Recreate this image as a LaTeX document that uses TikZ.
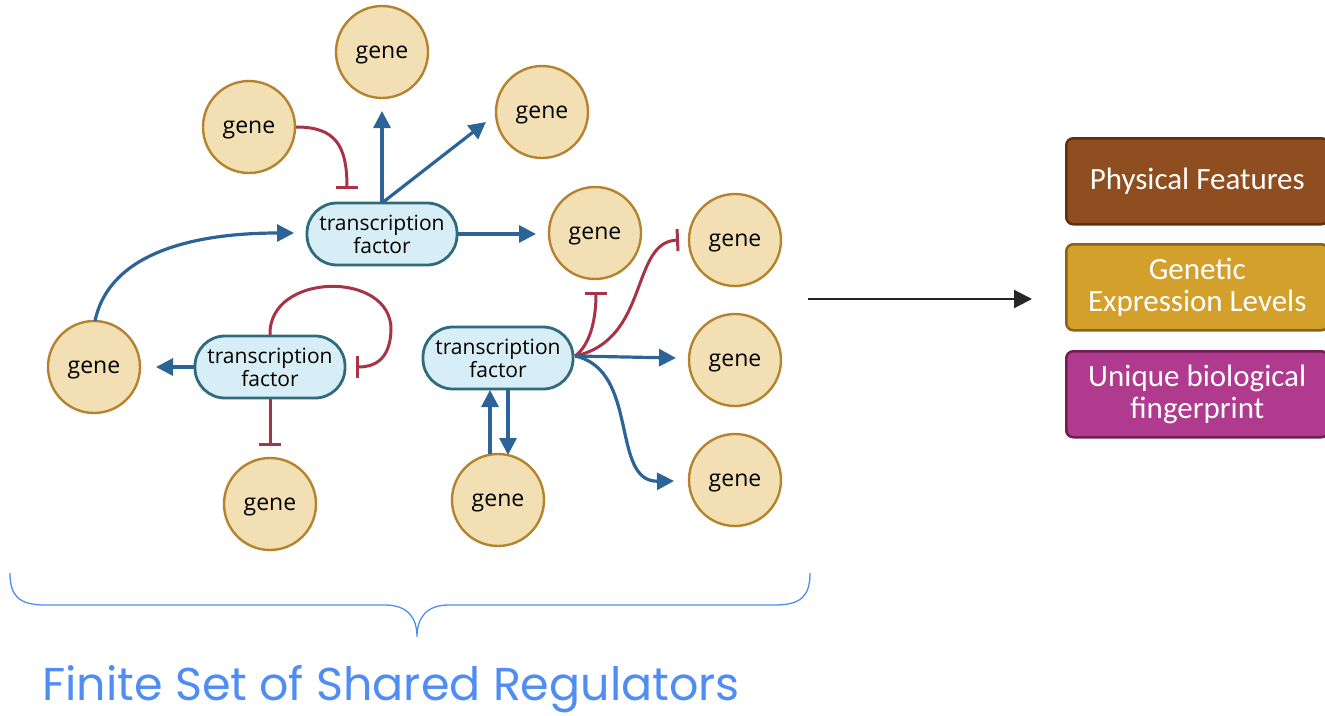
\documentclass[tikz,border=0pt]{standalone}
\usepackage{fontspec}
\setmainfont{Open Sans}
\newfontfamily\boxfont{Carlito}
\newfontfamily\titlefont{Poppins}
\usetikzlibrary{arrows.meta}
\definecolor{genefill}{HTML}{F3DFB4}
\definecolor{genedraw}{HTML}{B5832E}
\definecolor{tffill}{HTML}{D8EEF6}
\definecolor{tfdraw}{HTML}{2F6B7C}
\definecolor{actblue}{HTML}{2D6497}
\definecolor{inhred}{HTML}{A83246}
\definecolor{brownbox}{HTML}{8F4E1F}
\definecolor{brownedge}{HTML}{5E3210}
\definecolor{goldbox}{HTML}{D4A02C}
\definecolor{goldedge}{HTML}{8A6414}
\definecolor{magbox}{HTML}{B03A8E}
\definecolor{magedge}{HTML}{6E1F56}
\definecolor{braceblue}{HTML}{4F8DF5}
\tikzset{
  gene/.style={circle, draw=genedraw, fill=genefill, line width=2.4pt, minimum size=92pt, inner sep=0pt, text depth=0pt, font=\fontsize{23}{25}\selectfont},
  tf/.style={rounded corners=30pt, draw=tfdraw, fill=tffill, line width=2.8pt, minimum width=150pt, minimum height=62pt, inner sep=0pt, align=center, font=\fontsize{21}{23}\selectfont},
  act/.style={draw=actblue, line width=3.2pt, -{Triangle[length=17pt,width=17pt]}},
  inh/.style={draw=inhred, line width=3pt, -{Bar[width=22pt,line width=3pt]}},
  outbox/.style={rounded corners=7pt, line width=2.5pt, minimum width=262pt, minimum height=86pt, align=center, text=white, font=\boxfont\fontsize{31}{35}\selectfont},
}
\begin{document}
\begin{tikzpicture}[x=1pt,y=-1pt]
\useasboundingbox (0,0) rectangle (1325,715);
% genes
\node[gene] (g1) at (382,52) {gene};
\node[gene] (g2) at (249,127) {gene};
\node[gene] (g3) at (542,112) {gene};
\node[gene] (g4) at (595,233) {gene};
\node[gene] (g5) at (735,240) {gene};
\node[gene] (g6) at (735,360) {gene};
\node[gene] (g7) at (735,480) {gene};
\node[gene] (g8) at (94,367) {gene};
\node[gene] (g9) at (270,504) {gene};
\node[gene] (g10) at (498,500) {gene};
% transcription factors
\node[tf] (tf1) at (382,234) {transcription\\factor};
\node[tf] (tf2) at (270,367) {transcription\\factor};
\node[tf] (tf3) at (498,358) {transcription\\factor};
% helper coordinates
\coordinate (tf1top) at (382,203);
\coordinate (t1a) at (382,111);
\coordinate (t1b) at (486,122);
\coordinate (t1c) at (536,234);
\coordinate (i2) at (347,189);
\coordinate (a8) at (294,233);
\coordinate (a8s) at (95,321);
\coordinate (tf2left) at (195,367);
\coordinate (a2) at (156,367);
\coordinate (tf2top) at (270,335);
\coordinate (self) at (356,367);
\coordinate (tf2bot) at (270,399);
\coordinate (i9) at (270,446);
\coordinate (tf3r) at (575,356);
\coordinate (i4) at (596,292);
\coordinate (i5) at (679,240);
\coordinate (a6) at (676,358);
\coordinate (a7) at (674,481);
\coordinate (g10u) at (490,454);
\coordinate (tf3u) at (490,390);
\coordinate (tf3d) at (508,390);
\coordinate (g10d) at (508,455);
% connectors
\draw[act] (tf1top) -- (t1a);
\draw[act] (tf1top) -- (t1b);
\draw[act] (tf1.east) -- (t1c);
\draw[inh] (g2.east) .. controls (335,127) and (347,145) .. (i2);
\draw[act] (a8s) .. controls (110,250) and (200,233) .. (a8);
\draw[act] (tf2left) -- (a2);
\draw[inh] (tf2top) .. controls (268,272) and (392,270) .. (391,330) .. controls (390,362) and (372,367) .. (self);
\draw[inh] (tf2bot) -- (i9);
\draw[inh] (tf3r) .. controls (590,345) and (596,320) .. (i4);
\draw[inh] (tf3r) .. controls (650,340) and (630,242) .. (i5);
\draw[act] (tf3r) -- (a6);
\draw[act] (tf3r) .. controls (640,370) and (610,482) .. (a7);
\draw[act] (g10u) -- (tf3u);
\draw[act] (tf3d) -- (g10d);
% big arrow
\coordinate (bigs) at (808,299);
\coordinate (bige) at (1032,299);
\draw[line width=2.2pt, draw=black!85, -{Triangle[length=18pt,width=18pt]}] (bigs) -- (bige);
% output boxes
\node[outbox, draw=brownedge, fill=brownbox, anchor=north west] (b1) at (1065,137) {Physical Features};
\node[outbox, draw=goldedge, fill=goldbox, anchor=north west] (b2) at (1065,243) {Genetic\\[-3pt]Expression Levels};
\node[outbox, draw=magedge, fill=magbox, anchor=north west] (b3) at (1065,350) {Unique biological\\[-3pt]fingerprint};
% brace
\draw[braceblue, line width=1.3pt] (10,573) .. controls (10,595) and (18,605) .. (45,605) -- (385,605) .. controls (408,605) and (417,618) .. (417,637) .. controls (417,618) and (426,605) .. (449,605) -- (775,605) .. controls (802,605) and (810,595) .. (810,573);
\node[anchor=base west, text=braceblue, font=\titlefont\fontsize{46}{50}\selectfont, inner sep=0pt] (title) at (42,700) {Finite Set of Shared Regulators};
\end{tikzpicture}
\end{document}
